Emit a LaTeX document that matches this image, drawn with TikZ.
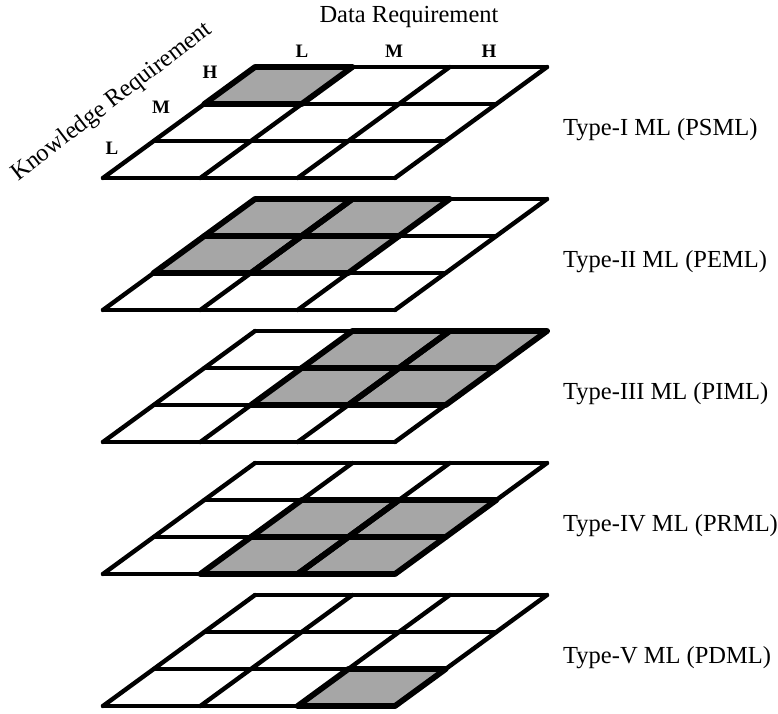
\documentclass[tikz,border=0pt]{standalone}
\usepackage{fontspec}
\setmainfont{Liberation Serif}

% One 3x3 slanted layer: #1 = layer index (0 = top), #2 = shaded cells as column/row
\newcommand\drawlayer[2]{%
  \begin{scope}[shift={(103,178+132*#1)}, x={(97.33pt,0pt)}, y={(50.67pt,37pt)}]
    \foreach \c/\r in {#2} {
      \fill[shade] (\c,\r) -- ++(1,0) -- ++(0,1) -- ++(-1,0) -- cycle;
    }
    \foreach \i in {0,...,3} {
      \draw[gridline] (\i,0) -- (\i,3);
      \draw[gridline] (0,\i) -- (3,\i);
    }
    \foreach \c/\r in {#2} {
      \draw[shadeedge] (\c,\r) -- ++(1,0) -- ++(0,1) -- ++(-1,0) -- cycle;
    }
  \end{scope}}

\begin{document}
\begin{tikzpicture}[x=1pt, y=-1pt,
  gridline/.style={line width=4.4pt, line join=round, line cap=round},
  shade/.style={fill=black!35},
  shadeedge/.style={line width=5.8pt, line join=round, line cap=round},
  title/.style={font=\fontsize{24.5}{29}\selectfont, inner sep=0pt},
  level/.style={font=\fontsize{19}{22}\selectfont\bfseries, inner sep=0pt},
  typelabel/.style={font=\fontsize{24.5}{29}\selectfont, inner sep=0pt, anchor=base west}]
\useasboundingbox (0,0) rectangle (778,713);

% layers, shaded cells given as (data column, knowledge row)
\drawlayer{0}{0/2}
\drawlayer{1}{0/2,1/2,0/1,1/1}
\drawlayer{2}{1/2,2/2,1/1,2/1}
\drawlayer{3}{1/1,2/1,1/0,2/0}
\drawlayer{4}{2/0}

% axis titles
\node[title] (datareq) at (409,17) {Data Requirement};
\node[title, rotate=37.5] (knowreq) at (112,102) {Knowledge Requirement};

% data levels
\node[level] (dl) at (302,51) {L};
\node[level] (dm) at (394,51) {M};
\node[level] (dh) at (489,51) {H};

% knowledge levels
\node[level] (kh) at (210,72) {H};
\node[level] (km) at (161,107) {M};
\node[level] (kl) at (112,148) {L};

% layer names
\node[typelabel] (t1) at (563,135) {Type-I ML (PSML)};
\node[typelabel] (t2) at (563,267) {Type-II ML (PEML)};
\node[typelabel] (t3) at (563,399) {Type-III ML (PIML)};
\node[typelabel] (t4) at (563,531) {Type-IV ML (PRML)};
\node[typelabel] (t5) at (563,663) {Type-V ML (PDML)};
\end{tikzpicture}
\end{document}
